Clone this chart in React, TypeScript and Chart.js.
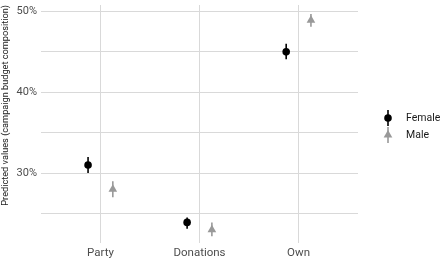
import React, { useEffect, useRef } from "react";
import { Chart, registerables } from "chart.js";

Chart.register(...registerables);

const categories = ["Party", "Donations", "Own"];
const seriesNames = ["Female", "Male"];
const femaleValues = [31, 23.9, 45];
const femaleLower = [30, 23.1, 44.1];
const femaleUpper = [32, 24.5, 46];
const maleValues = [28, 23, 48.9];
const maleLower = [27, 22.2, 48.1];
const maleUpper = [29, 23.9, 49.7];
const yTickValues = [25, 30, 35, 40, 45, 50];

const DODGE = 0.125;
const FEMALE_COLOR = "#000000";
const MALE_COLOR = "#999999";
const FONT = "Roboto";

function drawMarker(ctx: CanvasRenderingContext2D, style: string, x: number, y: number, r: number, color: string) {
  ctx.fillStyle = color;
  ctx.beginPath();
  if (style === "triangle") {
    const h = r * 1.5;
    const half = (r * Math.sqrt(3)) / 2;
    ctx.moveTo(x, y - r);
    ctx.lineTo(x + half, y + r / 2);
    ctx.lineTo(x - half, y + r / 2);
    ctx.closePath();
    void h;
  } else {
    ctx.arc(x, y, r, 0, Math.PI * 2);
  }
  ctx.fill();
}

const errorBarPlugin = {
  id: "errorBars",
  beforeDatasetsDraw(chart: any) {
    const ctx = chart.ctx;
    const yScale = chart.scales.y;
    chart.data.datasets.forEach((ds: any, di: number) => {
      const meta = chart.getDatasetMeta(di);
      ctx.save();
      ctx.strokeStyle = ds.borderColor;
      ctx.lineWidth = 1.6;
      meta.data.forEach((pt: any, i: number) => {
        const lo = yScale.getPixelForValue(ds.lower[i]);
        const hi = yScale.getPixelForValue(ds.upper[i]);
        ctx.beginPath();
        ctx.moveTo(pt.x, lo);
        ctx.lineTo(pt.x, hi);
        ctx.stroke();
      });
      ctx.restore();
    });
  },
  afterDraw(chart: any) {
    const ctx = chart.ctx;
    const area = chart.chartArea;
    const mx = area.right + 30;
    const tx = area.right + 48;
    const baseY = chart.height / 2 - 13;
    chart.data.datasets.forEach((ds: any, i: number) => {
      const cy = baseY + i * 17;
      ctx.save();
      ctx.strokeStyle = ds.borderColor;
      ctx.lineWidth = 1.6;
      ctx.beginPath();
      ctx.moveTo(mx, cy - 8);
      ctx.lineTo(mx, cy + 8);
      ctx.stroke();
      drawMarker(ctx, ds.pointStyle, mx, cy, ds.pointStyle === "triangle" ? 5 : 3.8, ds.backgroundColor);
      ctx.fillStyle = "#1a1a1a";
      ctx.font = `10.5px ${FONT}`;
      ctx.textBaseline = "middle";
      ctx.textAlign = "left";
      ctx.fillText(ds.label, tx, cy);
      ctx.restore();
    });
  },
};

export default function App() {
  const canvasRef = useRef<HTMLCanvasElement | null>(null);

  useEffect(() => {
    if (!canvasRef.current) return;
    const mk = (vals: number[], sign: number) =>
      vals.map((v, i) => ({ x: i + 1 + sign * DODGE, y: v }));
    const chart = new Chart(canvasRef.current, {
      type: "scatter",
      data: {
        datasets: [
          {
            label: seriesNames[0],
            data: mk(femaleValues, -1),
            lower: femaleLower,
            upper: femaleUpper,
            backgroundColor: FEMALE_COLOR,
            borderColor: FEMALE_COLOR,
            pointStyle: "circle",
            pointRadius: 3.8,
            borderWidth: 0,
          } as any,
          {
            label: seriesNames[1],
            data: mk(maleValues, 1),
            lower: maleLower,
            upper: maleUpper,
            backgroundColor: MALE_COLOR,
            borderColor: MALE_COLOR,
            pointStyle: "triangle",
            pointRadius: 5,
            borderWidth: 0,
          } as any,
        ],
      },
      plugins: [errorBarPlugin],
      options: {
        responsive: false,
        animation: false,
        layout: { padding: { top: 2, left: 0, right: 82, bottom: 0 } },
        plugins: {
          tooltip: { enabled: false },
          legend: { display: false },
        },
        scales: {
          x: {
            type: "linear",
            min: 0.4,
            max: 3.6,
            afterBuildTicks: (axis: any) => {
              axis.ticks = categories.map((_, i) => ({ value: i + 1 }));
            },
            afterFit: (axis: any) => {
              axis.height = 19;
              axis.paddingLeft = 0;
              axis.paddingRight = 0;
            },
            ticks: {
              autoSkip: false,
              maxRotation: 0,
              padding: 3,
              color: "#4d4d4d",
              font: { family: FONT, size: 11.5 },
              callback: (v: any) => categories[Number(v) - 1] ?? "",
            },
            grid: { color: "#d9d9d9", lineWidth: 1, drawTicks: false },
            border: { display: false },
          },
          y: {
            min: 21.35,
            max: 50.8,
            afterBuildTicks: (axis: any) => {
              axis.ticks = yTickValues.map((v) => ({ value: v }));
            },
            afterFit: (axis: any) => {
              axis.width = 41;
              axis.paddingTop = 0;
              axis.paddingBottom = 0;
            },
            ticks: {
              padding: 4,
              color: "#4d4d4d",
              font: { family: FONT, size: 11 },
              callback: (v: any) => (Number(v) % 10 === 0 ? `${v}%` : ""),
            },
            grid: { color: "#d9d9d9", lineWidth: 1, drawTicks: false },
            border: { display: false },
            title: {
              display: true,
              text: "Predicted values (campaign budget composition)",
              align: "end",
              color: "#1a1a1a",
              font: { family: FONT, size: 9.2 },
              padding: { top: 0, bottom: 0 },
            },
          },
        },
      },
    });
    return () => chart.destroy();
  }, []);

  return (
    <div style={{ position: "fixed", left: 0, top: 0, width: 440, height: 262, background: "#ffffff" }}>
      <canvas ref={canvasRef} width={440} height={262} />
    </div>
  );
}
